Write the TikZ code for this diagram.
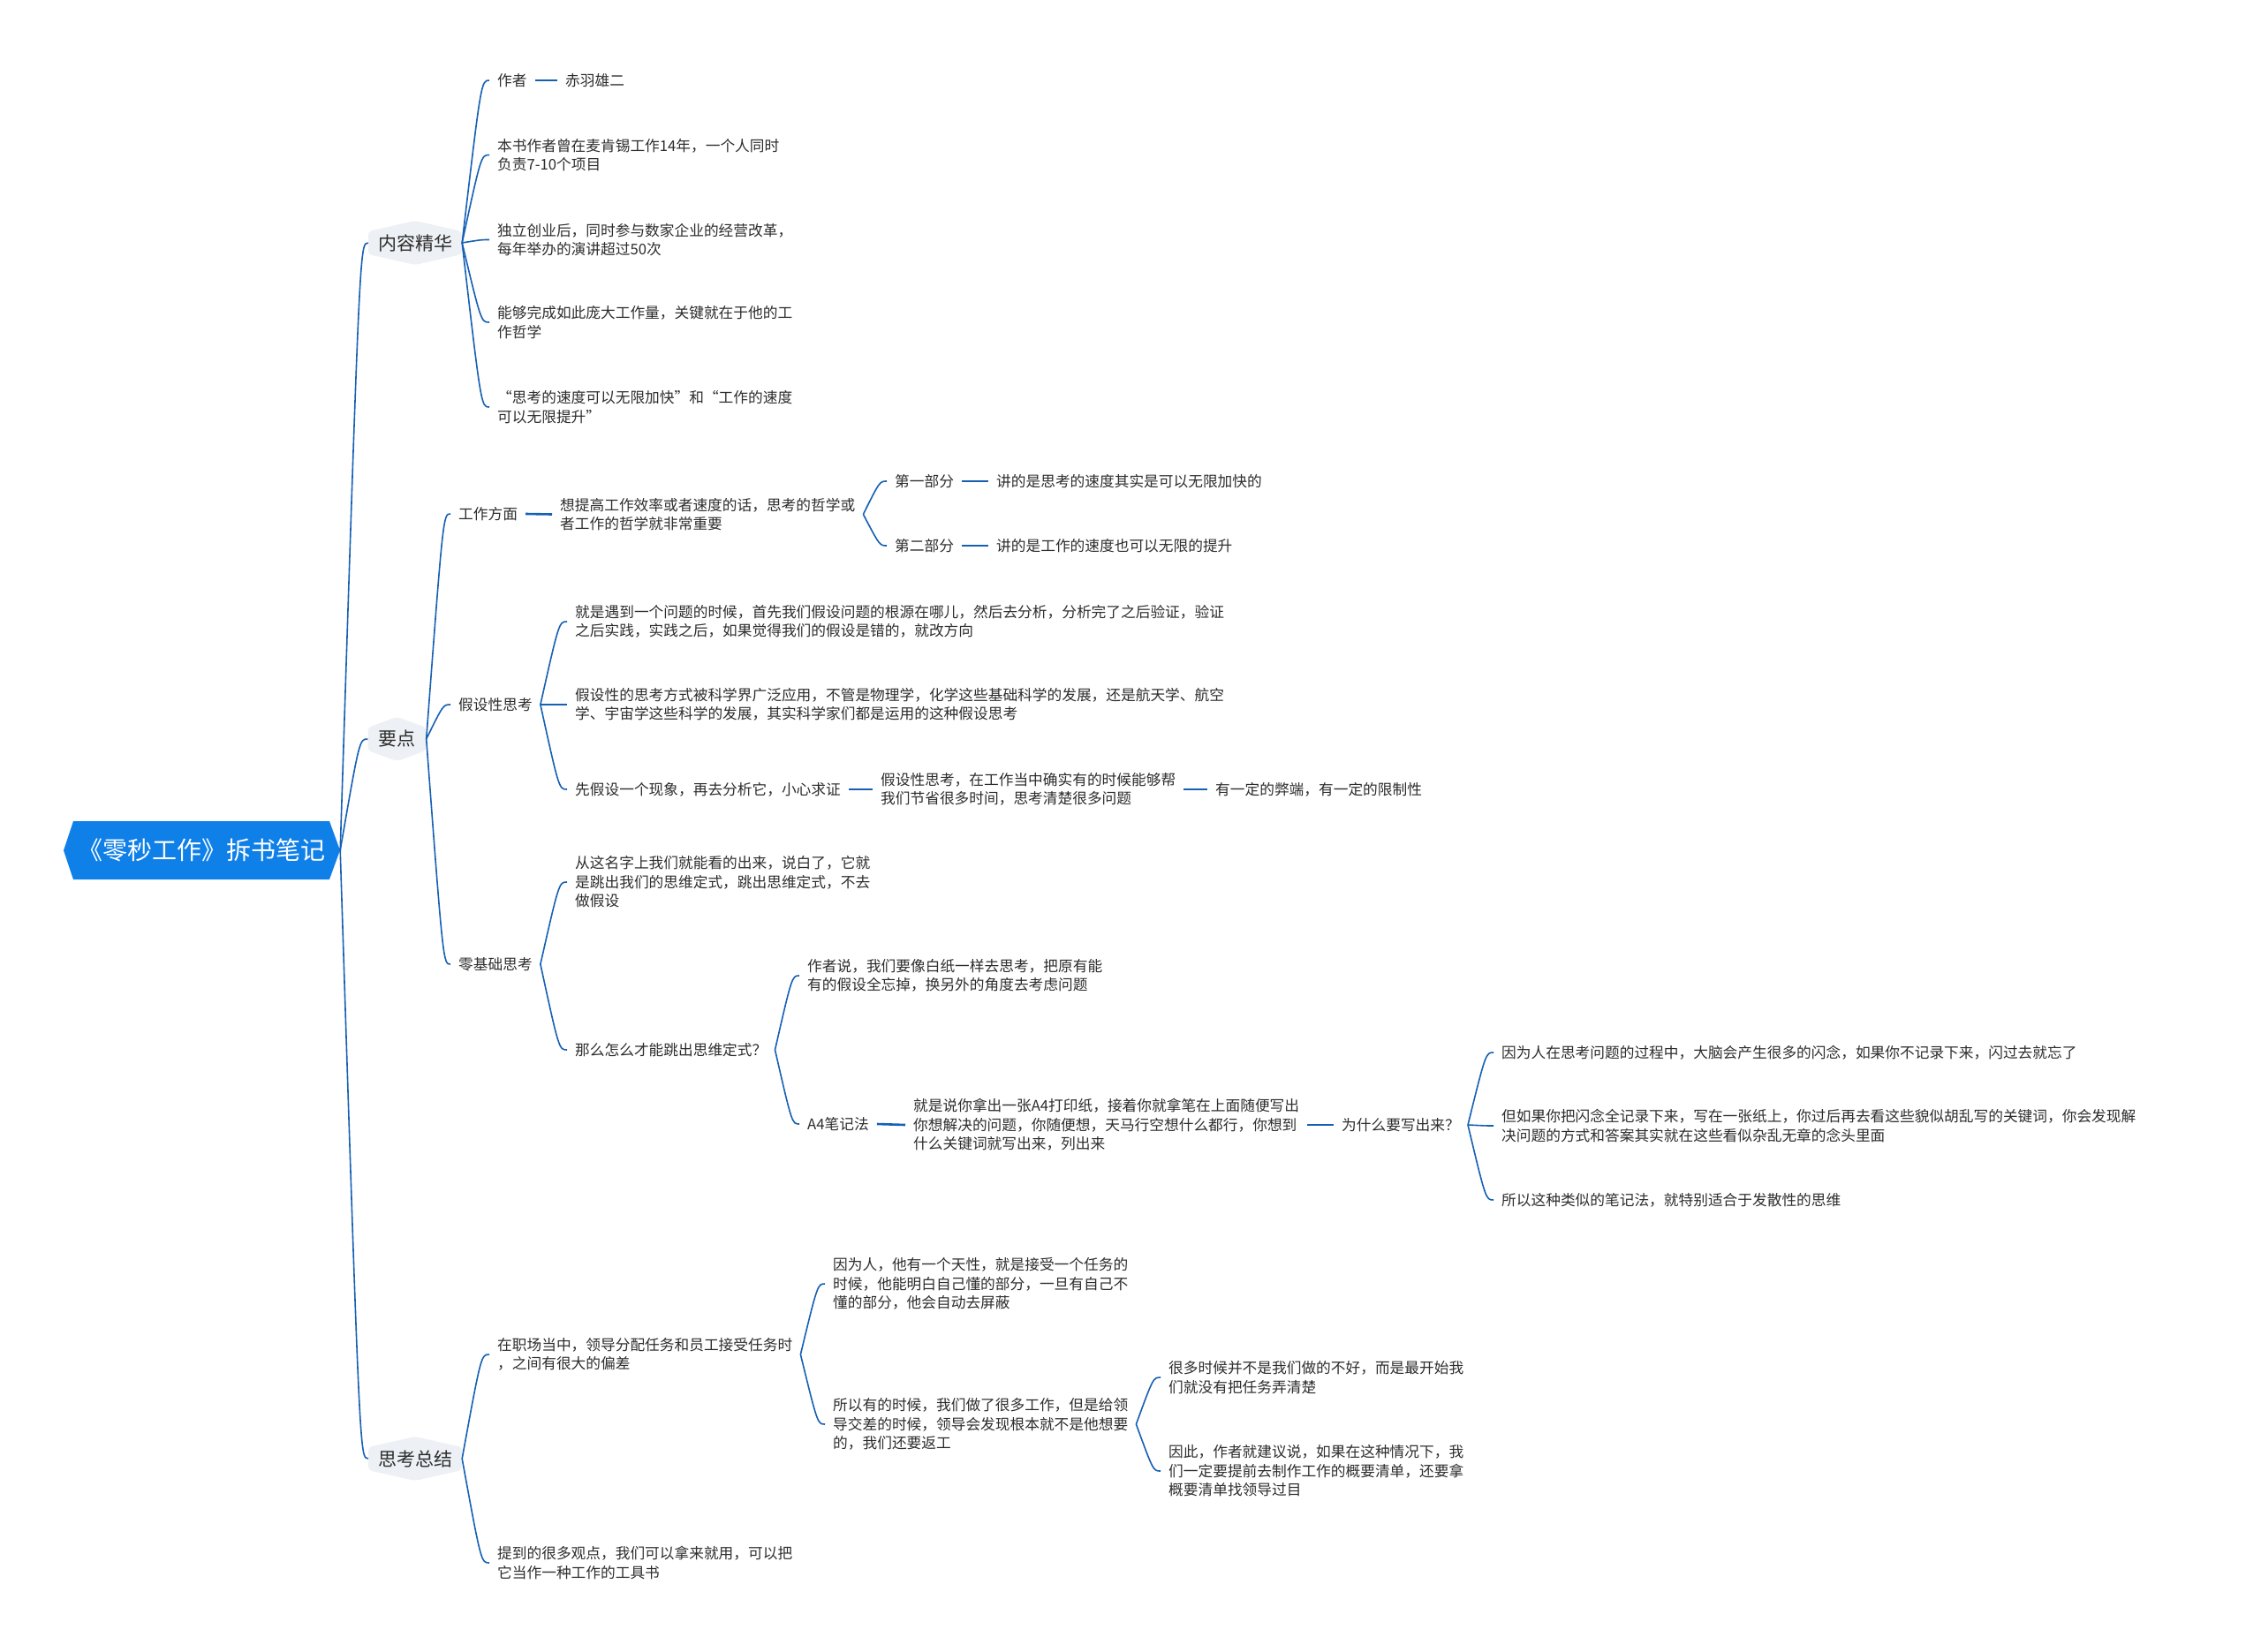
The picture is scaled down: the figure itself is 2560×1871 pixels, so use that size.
\documentclass[tikz,border=0pt]{standalone}
\usepackage{fontspec}
\setmainfont{Noto Sans CJK SC}
\usetikzlibrary{calc}
\definecolor{lineblue}{RGB}{22,96,180}
\definecolor{rootblue}{RGB}{16,128,233}
\definecolor{hexgray}{RGB}{237,240,244}
\definecolor{txt}{RGB}{45,45,45}
\newcommand\hexbg[4]{%
  \fill[hexgray, rounded corners=4pt] ({#1-#3},{#2-13}) -- (#1,{#2-#4}) -- ({#1+#3},{#2-13}) -- ({#1+#3},{#2+13}) -- (#1,{#2+#4}) -- ({#1-#3},{#2+13}) -- cycle;}
\begin{document}
\begin{tikzpicture}[x=1pt,y=-1pt,
  leaf/.style={anchor=west, inner xsep=9pt, inner ysep=2pt, align=left, font=\fontsize{16.7}{21.5}\selectfont, text=txt},
  lone/.style={inner sep=0pt, font=\fontsize{21}{25}\selectfont, text=txt, minimum height=40pt},
  conn/.style={draw=lineblue, line width=1.6pt, to path={.. controls ($(\tikztotarget)!0.3!(\tikztostart|-\tikztotarget)$) .. (\tikztotarget)}},
  straight/.style={draw=lineblue, line width=2.6pt}]
\fill[white] (0,0) rectangle (2560,1871);
\useasboundingbox (0,0) rectangle (2560,1871);

% root
\fill[rootblue] (72,963) -- (83,930) -- (373,930) -- (385,963) -- (373,996) -- (83,996) -- cycle;
\node[inner sep=0pt, minimum width=313pt, minimum height=66pt, font=\fontsize{28}{32}\selectfont, text=white] (root) at (228.5,963) {《零秒工作》拆书笔记};

% level 1
\hexbg{470}{275}{53}{25}
\node[lone, minimum width=106pt] (k1) at (470,275) {内容精华};
\hexbg{449.5}{837}{33}{25}
\node[lone, minimum width=66pt] (k2) at (449.5,837) {要点};
\hexbg{470}{1652}{53}{25}
\node[lone, minimum width=106pt] (k3) at (470,1652) {思考总结};

% 内容精华
\node[leaf] (a1) at (554,91) {作者};
\node[leaf] (a1x) at (631,91) {赤羽雄二};
\node[leaf] (a2) at (554,175.5) {本书作者曾在麦肯锡工作14年，一个人同时\\负责7-10个项目};
\node[leaf] (a3) at (554,271.5) {独立创业后，同时参与数家企业的经营改革，\\每年举办的演讲超过50次};
\node[leaf] (a4) at (554,365) {能够完成如此庞大工作量，关键就在于他的工\\作哲学};
\node[leaf] (a5) at (554,461) {“思考的速度可以无限加快”和“工作的速度\\可以无限提升”};

% 要点
\node[leaf] (b1) at (510,582) {工作方面};
\node[leaf] (b1x) at (625,582.5) {想提高工作效率或者速度的话，思考的哲学或\\者工作的哲学就非常重要};
\node[leaf] (b1a) at (1004,545) {第一部分};
\node[leaf] (b1ax) at (1119,545) {讲的是思考的速度其实是可以无限加快的};
\node[leaf] (b1b) at (1004,618) {第二部分};
\node[leaf] (b1bx) at (1119,618) {讲的是工作的速度也可以无限的提升};

\node[leaf] (b2) at (510,798) {假设性思考};
\node[leaf] (b2a) at (642,704) {就是遇到一个问题的时候，首先我们假设问题的根源在哪儿，然后去分析，分析完了之后验证，验证\\之后实践，实践之后，如果觉得我们的假设是错的，就改方向};
\node[leaf] (b2b) at (642,798) {假设性的思考方式被科学界广泛应用，不管是物理学，化学这些基础科学的发展，还是航天学、航空\\学、宇宙学这些科学的发展，其实科学家们都是运用的这种假设思考};
\node[leaf] (b2c) at (642,894) {先假设一个现象，再去分析它，小心求证};
\node[leaf] (b2cx) at (988,894) {假设性思考，在工作当中确实有的时候能够帮\\我们节省很多时间，思考清楚很多问题};
\node[leaf] (b2cy) at (1367,894) {有一定的弊端，有一定的限制性};

\node[leaf] (b3) at (510,1092) {零基础思考};
\node[leaf] (b3a) at (642,999) {从这名字上我们就能看的出来，说白了，它就\\是跳出我们的思维定式，跳出思维定式，不去\\做假设};
\node[leaf] (b3b) at (642,1189) {那么怎么才能跳出思维定式？};
\node[leaf] (b3b1) at (905,1105) {作者说，我们要像白纸一样去思考，把原有能\\有的假设全忘掉，换另外的角度去考虑问题};
\node[leaf] (b3b2) at (905,1273) {A4笔记法};
\node[leaf] (b3b2x) at (1025,1274) {就是说你拿出一张A4打印纸，接着你就拿笔在上面随便写出\\你想解决的问题，你随便想，天马行空想什么都行，你想到\\什么关键词就写出来，列出来};
\node[leaf] (b3b2y) at (1510,1274) {为什么要写出来？};
\node[leaf] (c1) at (1691,1192) {因为人在思考问题的过程中，大脑会产生很多的闪念，如果你不记录下来，闪过去就忘了};
\node[leaf] (c2) at (1691,1275) {但如果你把闪念全记录下来，写在一张纸上，你过后再去看这些貌似胡乱写的关键词，你会发现解\\决问题的方式和答案其实就在这些看似杂乱无章的念头里面};
\node[leaf] (c3) at (1691,1359) {所以这种类似的笔记法，就特别适合于发散性的思维};

% 思考总结
\node[leaf] (d1) at (554,1534) {在职场当中，领导分配任务和员工接受任务时\\，之间有很大的偏差};
\node[leaf] (d1a) at (934,1454) {因为人，他有一个天性，就是接受一个任务的\\时候，他能明白自己懂的部分，一旦有自己不\\懂的部分，他会自动去屏蔽};
\node[leaf] (d1b) at (934,1613) {所以有的时候，我们做了很多工作，但是给领\\导交差的时候，领导会发现根本就不是他想要\\的，我们还要返工};
\node[leaf] (d1b1) at (1314,1560) {很多时候并不是我们做的不好，而是最开始我\\们就没有把任务弄清楚};
\node[leaf] (d1b2) at (1314,1666) {因此，作者就建议说，如果在这种情况下，我\\们一定要提前去制作工作的概要清单，还要拿\\概要清单找领导过目};
\node[leaf] (d2) at (554,1770) {提到的很多观点，我们可以拿来就用，可以把\\它当作一种工作的工具书};

% connectors
\foreach \t in {k1,k2,k3} \draw[conn] (root.east) to (\t.west);
\foreach \t in {a1,a2,a3,a4,a5} \draw[conn] (k1.east) to (\t.west);
\foreach \t in {b1,b2,b3} \draw[conn] (k2.east) to (\t.west);
\foreach \t in {b1a,b1b} \draw[conn] (b1x.east) to (\t.west);
\foreach \t in {b2a,b2b,b2c} \draw[conn] (b2.east) to (\t.west);
\foreach \t in {b3a,b3b} \draw[conn] (b3.east) to (\t.west);
\foreach \t in {b3b1,b3b2} \draw[conn] (b3b.east) to (\t.west);
\foreach \t in {c1,c2,c3} \draw[conn] (b3b2y.east) to (\t.west);
\foreach \t in {d1,d2} \draw[conn] (k3.east) to (\t.west);
\foreach \t in {d1a,d1b} \draw[conn] (d1.east) to (\t.west);
\foreach \t in {d1b1,d1b2} \draw[conn] (d1b.east) to (\t.west);

\draw[straight] (a1.east) -- (a1x.west);
\draw[straight] (b1.east) -- (b1x.west);
\draw[straight] (b1a.east) -- (b1ax.west);
\draw[straight] (b1b.east) -- (b1bx.west);
\draw[straight] (b2c.east) -- (b2cx.west);
\draw[straight] (b2cx.east) -- (b2cy.west);
\draw[straight] (b3b2.east) -- (b3b2x.west);
\draw[straight] (b3b2x.east) -- (b3b2y.west);
\end{tikzpicture}
\end{document}
